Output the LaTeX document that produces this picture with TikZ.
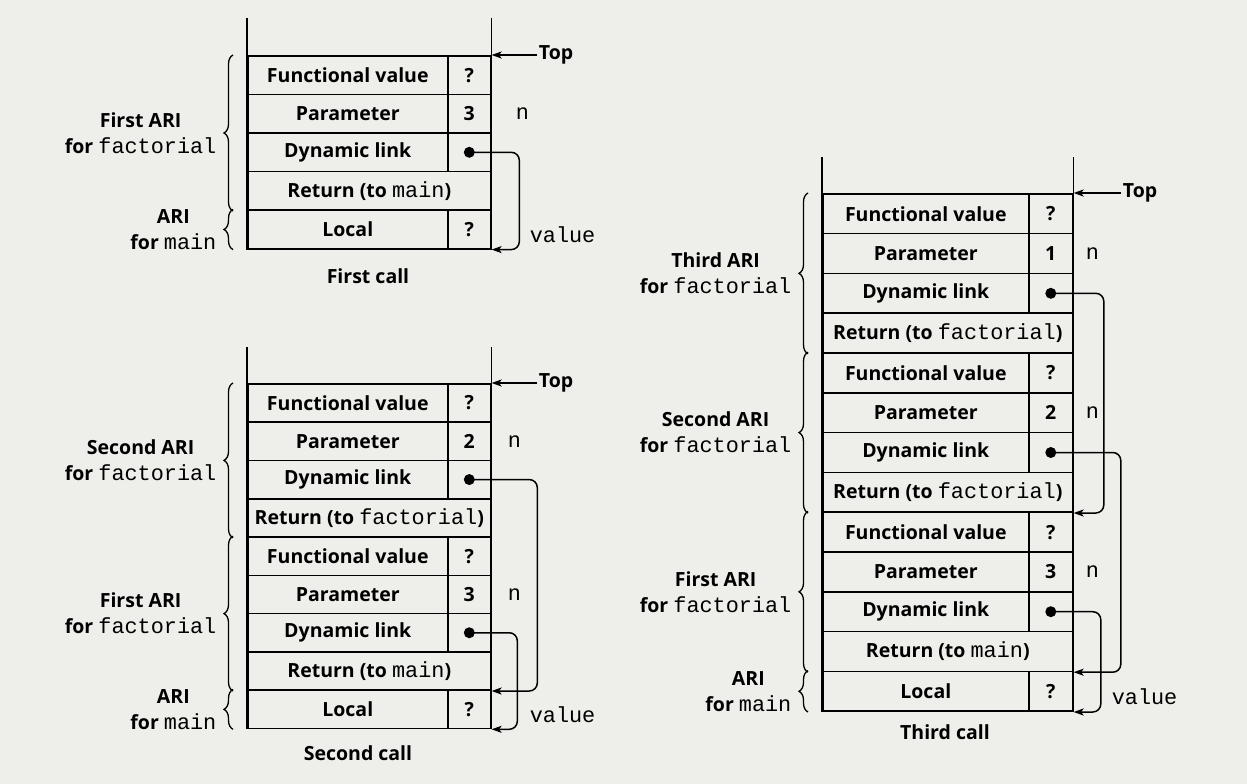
\documentclass[tikz,border=0pt]{standalone}
\usepackage{fontspec}
\setmainfont{Open Sans}
\newfontfamily\codefont[Scale=1.12]{Liberation Mono}
\usetikzlibrary{positioning,arrows.meta,decorations.pathreplacing}
\definecolor{paper}{RGB}{238,238,234}
\newcommand{\code}[1]{{\codefont\mdseries #1}}
\tikzset{
  cell/.style={draw, line width=1.6pt, anchor=north west, inner sep=1pt, minimum height={\rowh*1pt}},
  wall/.style={line width=1.6pt},
  link/.style={line width=1.5pt, rounded corners=8pt, -{Stealth[length=10pt,width=7pt,inset=2.5pt]}},
  tip/.style={line width=1.5pt, -{Stealth[length=10pt,width=7pt,inset=2.5pt]}},
  dot/.style={circle, fill, inner sep=0pt, minimum size=11pt},
  ari/.style={decorate, decoration={brace, amplitude=9pt}, line width=1.3pt},
  lbl/.style={align=center},
}
\begin{document}
\begin{tikzpicture}[x=1pt, y=-1pt, inner sep=2pt, font=\fontsize{19.5}{26}\selectfont\bfseries]
  \fill[paper] (0,0) rectangle (1247,784);
  \useasboundingbox (0,0) rectangle (1247,784);

  % First call
  \def\leftx{247}\def\rightx{490}\def\divx{447}\def\topy{55}\def\rowh{38.6}
  \foreach \lab/\val/\k [count=\i] in {Functional value/?/1, Parameter/3/1, Dynamic link//1,
      Return (to \code{main})//0, Local/?/1} {
    \ifnum\k=1
      \node[cell, minimum width={(\divx-\leftx)*1pt}] (fa\i) at (\leftx, {\topy+(\i-1)*\rowh}) {\lab};
      \node[cell, minimum width={(\rightx-\divx)*1pt}] (fv\i) at (\divx, {\topy+(\i-1)*\rowh}) {\val};
    \else
      \node[cell, minimum width={(\rightx-\leftx)*1pt}] (fa\i) at (\leftx, {\topy+(\i-1)*\rowh}) {\lab};
    \fi
  }
  \draw[wall] ([yshift=37pt]fa1.north west) -- (fa5.south west);
  \draw[wall] ([yshift=37pt]fv1.north east) -- (fv5.south east);
  \node[dot] (fd3) at (fv3) {};
  \draw[link] (fd3.center) -- ++(50,0) |- (fv5.south east);
  \node[right=45pt of fv1.north east] (ftop) {Top};
  \draw[tip] (ftop) -- (fv1.north east);
  \node[right=22pt of fv2] (fn2) {\code{n}};
  \node[right=36pt of fv5, yshift=-5pt] (fval) {\code{value}};
  \draw[ari] ([xshift=-14pt]fa4.south west) -- ([xshift=-14pt]fa1.north west)
    node[lbl, midway, left=14pt] (fari1) {First ARI\\for \code{factorial}};
  \draw[ari] ([xshift=-14pt]fa5.south west) -- ([xshift=-14pt]fa5.north west)
    node[lbl, midway, left=14pt] (fari0) {ARI\\for \code{main}};
  \node (fcap) at (368, 276) {First call};

  % Second call
  \def\leftx{247}\def\rightx{490}\def\divx{447}\def\topy{383}\def\rowh{38.3}
  \foreach \lab/\val/\k [count=\i] in {Functional value/?/1, Parameter/2/1, Dynamic link//1,
      Return (to \code{factorial})//0, Functional value/?/1, Parameter/3/1, Dynamic link//1,
      Return (to \code{main})//0, Local/?/1} {
    \ifnum\k=1
      \node[cell, minimum width={(\divx-\leftx)*1pt}] (sa\i) at (\leftx, {\topy+(\i-1)*\rowh}) {\lab};
      \node[cell, minimum width={(\rightx-\divx)*1pt}] (sv\i) at (\divx, {\topy+(\i-1)*\rowh}) {\val};
    \else
      \node[cell, minimum width={(\rightx-\leftx)*1pt}] (sa\i) at (\leftx, {\topy+(\i-1)*\rowh}) {\lab};
    \fi
  }
  \draw[wall] ([yshift=36pt]sa1.north west) -- (sa9.south west);
  \draw[wall] ([yshift=36pt]sv1.north east) -- (sv9.south east);
  \node[dot] (sd3) at (sv3) {};
  \node[dot] (sd7) at (sv7) {};
  \draw[link] (sd3.center) -- ++(68,0) |- (sa8.south east);
  \draw[link] (sd7.center) -- ++(48,0) |- (sv9.south east);
  \node[right=45pt of sv1.north east] (stop) {Top};
  \draw[tip] (stop) -- (sv1.north east);
  \node[right=14pt of sv2] (sn2) {\code{n}};
  \node[right=14pt of sv6] (sn6) {\code{n}};
  \node[right=36pt of sv9, yshift=-5pt] (sval) {\code{value}};
  \draw[ari] ([xshift=-14pt]sa4.south west) -- ([xshift=-14pt]sa1.north west)
    node[lbl, midway, left=14pt] (sari2) {Second ARI\\for \code{factorial}};
  \draw[ari] ([xshift=-14pt]sa8.south west) -- ([xshift=-14pt]sa5.north west)
    node[lbl, midway, left=14pt] (sari1) {First ARI\\for \code{factorial}};
  \draw[ari] ([xshift=-14pt]sa9.south west) -- ([xshift=-14pt]sa9.north west)
    node[lbl, midway, left=14pt] (sari0) {ARI\\for \code{main}};
  \node (scap) at (358, 753) {Second call};

  % Third call
  \def\leftx{822}\def\rightx{1072}\def\divx{1028}\def\topy{193}\def\rowh{39.8}
  \foreach \lab/\val/\k [count=\i] in {Functional value/?/1, Parameter/1/1, Dynamic link//1,
      Return (to \code{factorial})//0, Functional value/?/1, Parameter/2/1, Dynamic link//1,
      Return (to \code{factorial})//0, Functional value/?/1, Parameter/3/1, Dynamic link//1,
      Return (to \code{main})//0, Local/?/1} {
    \ifnum\k=1
      \node[cell, minimum width={(\divx-\leftx)*1pt}] (ta\i) at (\leftx, {\topy+(\i-1)*\rowh}) {\lab};
      \node[cell, minimum width={(\rightx-\divx)*1pt}] (tv\i) at (\divx, {\topy+(\i-1)*\rowh}) {\val};
    \else
      \node[cell, minimum width={(\rightx-\leftx)*1pt}] (ta\i) at (\leftx, {\topy+(\i-1)*\rowh}) {\lab};
    \fi
  }
  \draw[wall] ([yshift=36pt]ta1.north west) -- (ta13.south west);
  \draw[wall] ([yshift=36pt]tv1.north east) -- (tv13.south east);
  \node[dot] (td3) at (tv3) {};
  \node[dot] (td7) at (tv7) {};
  \node[dot] (td11) at (tv11) {};
  \draw[link] (td3.center) -- ++(53,0) |- (ta8.south east);
  \draw[link] (td7.center) -- ++(70,0) |- (ta12.south east);
  \draw[link] (td11.center) -- ++(50,0) |- (tv13.south east);
  \node[right=47pt of tv1.north east] (ttop) {Top};
  \draw[tip] (ttop) -- (tv1.north east);
  \node[right=10pt of tv2] (tn2) {\code{n}};
  \node[right=10pt of tv6] (tn6) {\code{n}};
  \node[right=10pt of tv10] (tn10) {\code{n}};
  \node[right=36pt of tv13, yshift=-5pt] (tval) {\code{value}};
  \draw[ari] ([xshift=-14pt]ta4.south west) -- ([xshift=-14pt]ta1.north west)
    node[lbl, midway, left=14pt] (tari3) {Third ARI\\for \code{factorial}};
  \draw[ari] ([xshift=-14pt]ta8.south west) -- ([xshift=-14pt]ta5.north west)
    node[lbl, midway, left=14pt] (tari2) {Second ARI\\for \code{factorial}};
  \draw[ari] ([xshift=-14pt]ta12.south west) -- ([xshift=-14pt]ta9.north west)
    node[lbl, midway, left=14pt] (tari1) {First ARI\\for \code{factorial}};
  \draw[ari] ([xshift=-14pt]ta13.south west) -- ([xshift=-14pt]ta13.north west)
    node[lbl, midway, left=14pt] (tari0) {ARI\\for \code{main}};
  \node (tcap) at (945, 732) {Third call};
\end{tikzpicture}
\end{document}
